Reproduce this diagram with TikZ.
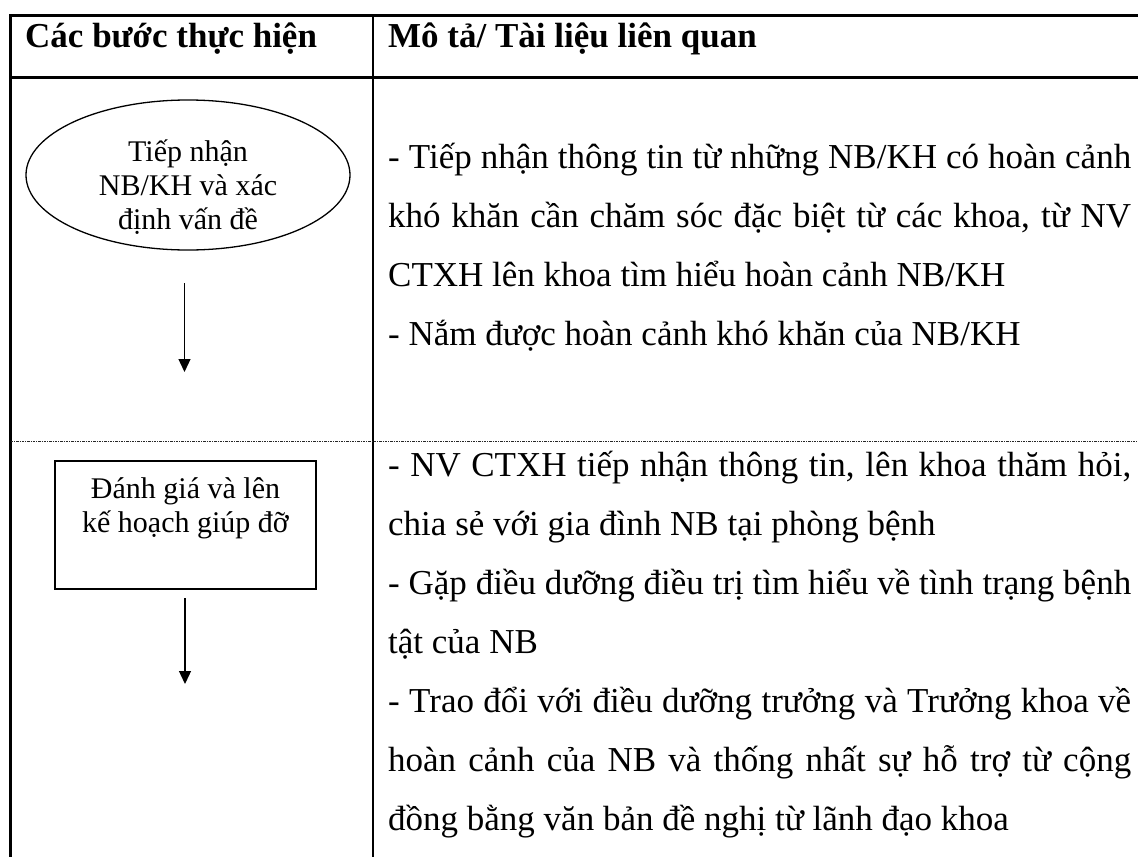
\documentclass[tikz,border=0pt]{standalone}
\usepackage{fontspec}
\setmainfont{Liberation Serif}
\usetikzlibrary{arrows.meta,shapes.geometric}
% a justified line of the description column
\newcommand\jtext[1]{\makebox[743pt][s]{#1}}
\begin{document}
\begin{tikzpicture}[x=1pt,y=-1pt,
  rule/.style={line width=2.6pt},
  rowsep/.style={line width=0.9pt, dash pattern=on 2.5pt off 1pt on 1pt off 1pt, black!85},
  stepbox/.style={draw, line width=1.3pt, inner sep=0pt},
  arr/.style={-{Triangle[width=12pt,length=13pt]}, line width=1.3pt},
  body/.style={font=\fontsize{35pt}{59pt}\selectfont, anchor=base west, inner sep=0pt},
  head/.style={font=\bfseries\fontsize{35pt}{42pt}\selectfont, anchor=base west, inner sep=0pt},
  small/.style={font=\fontsize{30pt}{34.5pt}\selectfont, anchor=base, inner sep=0pt}
]
\useasboundingbox (0,0) rectangle (1138,857);
\fill[white] (0,0) rectangle (1138,857);

% table rules
\draw[rule] (1138,15.3) -- (10.5,15.3) -- (10.5,857);
\draw[rule] (10.5,77.3) -- (1138,77.3);
\draw[rule] (373,15.3) -- (373,857);
\draw[rowsep] (10.5,441) -- (1138,441);

% header
\node[head] (h1) at (25,47) {Các bước thực hiện};
\node[head] (h2) at (388,47) {Mô tả/ Tài liệu liên quan};

% step 1
\node[stepbox, ellipse, minimum width=324pt, minimum height=150pt] (recv) at (188,175) {};
\node[small] (recv1) at (188,161) {Tiếp nhận};
\node[small] (recv2) at (188,195) {NB/KH và xác};
\node[small] (recv3) at (188,229) {định vấn đề};
\coordinate (a1s) at (184.5,283);
\coordinate (a1e) at (184.5,372);
\draw[arr] (a1s) -- (a1e);

% step 2
\node[stepbox, minimum width=261pt, minimum height=128pt] (plan) at (185.5,525) {};
\node[small] (plan1) at (185.5,498) {Đánh giá và lên};
\node[small] (plan2) at (185.5,532) {kế hoạch giúp đỡ};
\coordinate (a2s) at (185,598);
\coordinate (a2e) at (185,684);
\draw[arr] (a2s) -- (a2e);

% descriptions, row 1
\node[body] (d1) at (388,168) {\jtext{- Tiếp nhận thông tin từ những NB/KH có hoàn cảnh}};
\node[body] (d2) at (388,227) {\jtext{khó khăn cần chăm sóc đặc biệt từ các khoa, từ NV}};
\node[body] (d3) at (388,286) {CTXH lên khoa tìm hiểu hoàn cảnh NB/KH};
\node[body] (d4) at (388,345) {- Nắm được hoàn cảnh khó khăn của NB/KH};

% descriptions, row 2
\node[body] (e1) at (388,476) {\jtext{- NV CTXH tiếp nhận thông tin, lên khoa thăm hỏi,}};
\node[body] (e2) at (388,535) {chia sẻ với gia đình NB tại phòng bệnh};
\node[body] (e3) at (388,594) {\jtext{- Gặp điều dưỡng điều trị tìm hiểu về tình trạng bệnh}};
\node[body] (e4) at (388,653) {tật của NB};
\node[body] (e5) at (388,712) {\jtext{- Trao đổi với điều dưỡng trưởng và Trưởng khoa về}};
\node[body] (e6) at (388,771) {\jtext{hoàn cảnh của NB và thống nhất sự hỗ trợ từ cộng}};
\node[body] (e7) at (388,830) {đồng bằng văn bản đề nghị từ lãnh đạo khoa};
\end{tikzpicture}
\end{document}
